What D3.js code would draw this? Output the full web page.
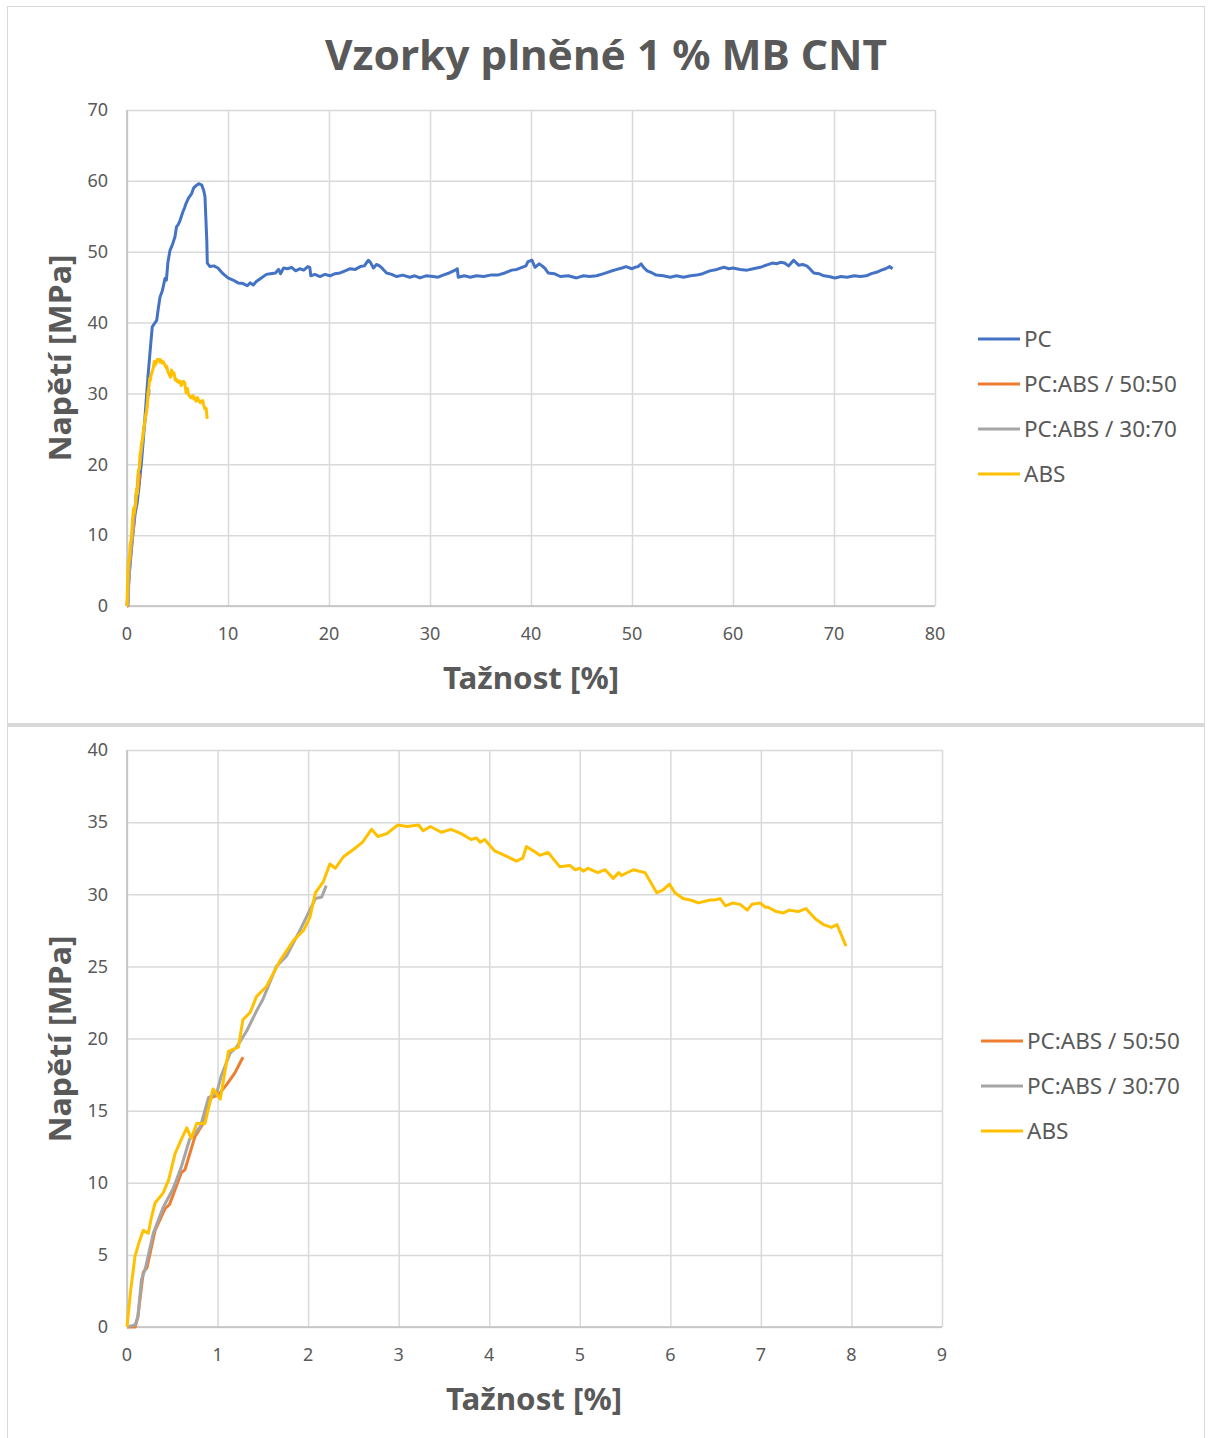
<!DOCTYPE html>
<html>
<head>
<meta charset="utf-8">
<script src="https://cdn.jsdelivr.net/npm/d3@7"></script>
<style>
  body { margin: 0; background: #fff; }
  svg { display: block; }
  text { font-family: "Noto Sans", "Open Sans", sans-serif; fill: #595959; }
</style>
</head>
<body>
<script>
// series data: [tažnost %, napětí MPa]
var pcData = [[0,0],[0.2,4],[0.5,9],[0.8,13],[1.0,14.5],[1.2,17],[1.45,20.6],[1.7,25],[1.9,29],[2.1,32.8],[2.35,37],[2.5,39.4],[2.7,39.8],[2.94,40.3],[3.1,42],[3.27,43.6],[3.5,44.5],[3.76,46.2],[3.9,46],[4.05,48.5],[4.26,50.2],[4.5,51],[4.75,52.1],[4.9,53.5],[5.05,53.8],[5.25,54.4],[5.5,55.5],[5.7,56.2],[5.84,56.8],[6.1,57.6],[6.4,58.2],[6.6,59],[6.9,59.4],[7.1,59.6],[7.4,59.4],[7.6,58.6],[7.72,57.8],[7.8,55],[7.9,51.6],[7.95,48.4],[8.22,47.9],[8.6,48],[9.0,47.7],[9.5,46.9],[10.0,46.3],[10.5,46],[11.0,45.6],[11.5,45.5],[11.9,45.2],[12.2,45.6],[12.5,45.3],[12.8,45.8],[13.3,46.3],[13.8,46.8],[14.2,46.9],[14.7,47.0],[15.0,47.5],[15.2,46.9],[15.5,47.7],[15.9,47.6],[16.3,47.8],[16.7,47.3],[17.1,47.6],[17.5,47.4],[17.9,47.9],[18.1,47.8],[18.2,46.6],[18.6,46.8],[19.1,46.5],[19.6,46.8],[20.1,46.6],[20.6,46.9],[21.1,47.0],[21.6,47.3],[22.1,47.6],[22.6,47.5],[23.1,47.9],[23.5,48.0],[23.9,48.8],[24.1,48.5],[24.4,47.7],[24.7,48.2],[25.0,48.0],[25.3,47.6],[25.7,47.0],[26.2,46.8],[26.7,46.5],[27.3,46.7],[28.0,46.4],[28.5,46.6],[29.0,46.3],[29.6,46.6],[30.3,46.5],[30.8,46.4],[31.3,46.7],[31.9,47.0],[32.5,47.4],[32.7,47.6],[32.8,46.4],[33.4,46.6],[34.0,46.4],[34.6,46.6],[35.3,46.5],[36.0,46.7],[36.7,46.7],[37.4,47.0],[38.1,47.4],[38.6,47.5],[39.1,47.8],[39.5,48.0],[39.7,48.6],[40.1,48.8],[40.4,47.8],[40.8,48.3],[41.1,48.0],[41.4,47.6],[41.7,47.0],[42.3,46.9],[42.9,46.5],[43.7,46.6],[44.5,46.3],[45.2,46.6],[45.8,46.5],[46.5,46.6],[47.2,46.9],[47.8,47.2],[48.5,47.5],[49.0,47.7],[49.4,47.9],[50.0,47.6],[50.3,47.8],[50.6,47.9],[50.9,48.3],[51.2,47.7],[51.5,47.3],[52.0,47.0],[52.4,46.7],[53.1,46.6],[53.8,46.4],[54.4,46.6],[55.1,46.4],[55.8,46.6],[56.4,46.7],[57.0,46.9],[57.7,47.3],[58.4,47.5],[59.1,47.8],[59.6,47.6],[60.0,47.7],[60.7,47.5],[61.4,47.4],[62.0,47.6],[62.7,47.8],[63.3,48.1],[63.9,48.4],[64.3,48.3],[64.7,48.5],[65.1,48.4],[65.5,48.0],[66.0,48.8],[66.5,48.1],[66.9,48.2],[67.3,48.0],[67.6,47.6],[68.0,47.0],[68.5,46.9],[69.0,46.6],[69.5,46.5],[70.1,46.3],[70.7,46.5],[71.3,46.4],[72.0,46.6],[72.6,46.5],[73.2,46.6],[73.7,46.9],[74.2,47.1],[74.7,47.4],[75.1,47.6],[75.5,47.9],[75.8,47.6]];

var pcAbs5050Data = [[0,0],[0.09,0],[0.12,0.7],[0.18,3.8],[0.22,4.1],[0.31,6.7],[0.42,8.2],[0.47,8.5],[0.60,10.7],[0.64,10.9],[0.75,13.2],[0.84,14.1],[0.93,15.9],[1.01,16.1],[1.10,16.8],[1.19,17.6],[1.28,18.7]];

var pcAbs3070Data = [[0,0],[0.09,0.15],[0.12,0.7],[0.16,3.3],[0.2,4.0],[0.29,6.5],[0.40,8.3],[0.51,9.6],[0.60,11.1],[0.69,13.0],[0.81,13.9],[0.86,15.0],[0.90,15.9],[0.99,16.2],[1.04,17.4],[1.14,19.0],[1.21,19.4],[1.32,20.5],[1.43,21.9],[1.50,22.7],[1.65,25.0],[1.76,25.7],[1.91,27.5],[2.08,29.7],[2.15,29.8],[2.20,30.6]];

var absData = [[0,0],[0.04,2.5],[0.088,4.9],[0.13,5.8],[0.18,6.7],[0.235,6.5],[0.27,7.6],[0.31,8.6],[0.40,9.3],[0.46,10.2],[0.53,12.0],[0.6,13.0],[0.66,13.8],[0.71,13.1],[0.77,14.1],[0.86,14.1],[0.95,16.5],[1.03,15.8],[1.12,19.1],[1.23,19.4],[1.28,21.3],[1.36,21.8],[1.43,22.9],[1.54,23.6],[1.69,25.4],[1.84,26.8],[1.95,27.5],[2.02,28.4],[2.08,30.1],[2.17,30.9],[2.24,32.1],[2.30,31.8],[2.39,32.6],[2.50,33.1],[2.6,33.6],[2.7,34.5],[2.77,34.0],[2.87,34.2],[2.99,34.8],[3.09,34.7],[3.22,34.8],[3.27,34.4],[3.35,34.7],[3.47,34.3],[3.58,34.5],[3.69,34.2],[3.80,33.8],[3.86,33.9],[3.90,33.6],[3.95,33.8],[4.06,33.0],[4.17,32.7],[4.30,32.3],[4.37,32.5],[4.41,33.3],[4.49,33.0],[4.56,32.7],[4.65,32.9],[4.78,31.9],[4.89,32.0],[4.95,31.7],[5.0,31.8],[5.04,31.6],[5.09,31.8],[5.20,31.5],[5.28,31.7],[5.37,31.1],[5.43,31.5],[5.46,31.3],[5.59,31.7],[5.72,31.5],[5.85,30.1],[5.92,30.3],[5.99,30.7],[6.05,30.1],[6.14,29.7],[6.22,29.6],[6.31,29.4],[6.44,29.6],[6.49,29.6],[6.55,29.7],[6.61,29.2],[6.69,29.4],[6.77,29.3],[6.85,28.9],[6.90,29.3],[6.99,29.4],[7.05,29.1],[7.08,29.1],[7.17,28.8],[7.25,28.7],[7.31,28.9],[7.41,28.8],[7.50,29.0],[7.60,28.3],[7.69,27.9],[7.78,27.7],[7.84,27.9],[7.94,26.4]];

// tick values
var topXTicks = [0, 10, 20, 30, 40, 50, 60, 70, 80];
var topYTicks = [0, 10, 20, 30, 40, 50, 60, 70];
var botXTicks = [0, 1, 2, 3, 4, 5, 6, 7, 8, 9];
var botYTicks = [0, 5, 10, 15, 20, 25, 30, 35, 40];

var seriesNames = ["PC", "PC:ABS / 50:50", "PC:ABS / 30:70", "ABS"];
var seriesColors = ["#4472C4", "#ED7D31", "#A5A5A5", "#FFC000"];

var title = "Vzorky plněné 1 % MB CNT";
var xTitle = "Tažnost [%]";
var yTitle = "Napětí [MPa]";

var svg = d3.select("body").append("svg")
    .attr("width", 1209)
    .attr("height", 1438);

// frames of the two chart boxes
svg.append("rect").attr("x", 7.5).attr("y", 6.5).attr("width", 1197).attr("height", 717)
    .attr("fill", "none").attr("stroke", "#d9d9d9");
svg.append("rect").attr("x", 7.5).attr("y", 726.5).attr("width", 1197).attr("height", 720)
    .attr("fill", "none").attr("stroke", "#d9d9d9");
svg.append("line").attr("x1", 7).attr("x2", 1205).attr("y1", 725).attr("y2", 725)
    .attr("stroke", "#d9d9d9").attr("stroke-width", 3);

svg.append("text")
    .attr("x", 606).attr("y", 70)
    .attr("text-anchor", "middle")
    .attr("textLength", 562).attr("lengthAdjust", "spacingAndGlyphs")
    .style("font-size", "41px").style("font-weight", "bold")
    .text(title);

function drawChart(cfg) {
    var x = d3.scaleLinear().domain(cfg.xDomain).range([cfg.left, cfg.right]);
    var y = d3.scaleLinear().domain(cfg.yDomain).range([cfg.bottom, cfg.top]);
    var w = cfg.right - cfg.left, h = cfg.bottom - cfg.top;

    // gridlines
    var gx = svg.append("g").attr("transform", "translate(0," + cfg.bottom + ")")
        .call(d3.axisBottom(x).tickValues(cfg.xTicks).tickSize(-h).tickFormat(""));
    var gy = svg.append("g").attr("transform", "translate(" + cfg.left + ",0)")
        .call(d3.axisLeft(y).tickValues(cfg.yTicks).tickSize(-w).tickFormat(""));
    [gx, gy].forEach(function (g) {
        g.select(".domain").remove();
        g.selectAll("line").attr("stroke", "#d9d9d9").attr("stroke-width", 1.5);
    });

    // axis lines
    svg.append("line").attr("x1", cfg.left).attr("x2", cfg.left).attr("y1", cfg.top).attr("y2", cfg.bottom)
        .attr("stroke", "#bfbfbf").attr("stroke-width", 1.5);
    svg.append("line").attr("x1", cfg.left).attr("x2", cfg.right).attr("y1", cfg.bottom).attr("y2", cfg.bottom)
        .attr("stroke", "#bfbfbf").attr("stroke-width", 1.5);

    // tick labels
    svg.append("g").selectAll("text").data(cfg.yTicks).enter().append("text")
        .attr("x", cfg.left - 19).attr("y", function (d) { return y(d); })
        .attr("dy", "0.35em").attr("text-anchor", "end")
        .style("font-size", "18px")
        .text(function (d) { return d; });
    svg.append("g").selectAll("text").data(cfg.xTicks).enter().append("text")
        .attr("x", function (d) { return x(d); }).attr("y", cfg.bottom + 28)
        .attr("dy", "0.35em").attr("text-anchor", "middle")
        .style("font-size", "18px")
        .text(function (d) { return d; });

    // axis titles
    svg.append("text")
        .attr("transform", "translate(" + (cfg.left - 67) + "," + cfg.yTitleY + ") rotate(-90)")
        .attr("text-anchor", "middle").attr("dy", "0.35em")
        .attr("textLength", 207).attr("lengthAdjust", "spacingAndGlyphs")
        .style("font-size", "31px").style("font-weight", "bold")
        .text(yTitle);
    svg.append("text")
        .attr("x", cfg.xTitleX).attr("y", cfg.bottom + 72)
        .attr("text-anchor", "middle").attr("dy", "0.35em")
        .attr("textLength", 176).attr("lengthAdjust", "spacingAndGlyphs")
        .style("font-size", "31px").style("font-weight", "bold")
        .text(xTitle);

    // series lines
    var line = d3.line().x(function (d) { return x(d[0]); }).y(function (d) { return y(d[1]); });
    cfg.series.forEach(function (s) {
        svg.append("path").datum(s.data)
            .attr("d", line)
            .attr("fill", "none")
            .attr("stroke", seriesColors[s.idx])
            .attr("stroke-width", 3)
            .attr("stroke-linejoin", "round");
    });

    // legend
    var leg = svg.append("g");
    cfg.series.forEach(function (s, i) {
        var ly = cfg.legendTop + i * 45;
        leg.append("line").attr("x1", cfg.legendX).attr("x2", cfg.legendX + 42)
            .attr("y1", ly).attr("y2", ly)
            .attr("stroke", seriesColors[s.idx]).attr("stroke-width", 3);
        leg.append("text").attr("x", cfg.legendX + 46).attr("y", ly)
            .attr("dy", "0.35em")
            .style("font-size", "22.5px")
            .text(seriesNames[s.idx]);
    });
}

drawChart({
    left: 127, right: 935, top: 110, bottom: 606,
    xDomain: [0, 80], yDomain: [0, 70],
    xTicks: topXTicks, yTicks: topYTicks,
    xTitleX: 531, yTitleY: 358,
    legendX: 978, legendTop: 339,
    series: [
        { idx: 0, data: pcData },
        { idx: 1, data: pcAbs5050Data },
        { idx: 2, data: pcAbs3070Data },
        { idx: 3, data: absData }
    ]
});

drawChart({
    left: 127, right: 942, top: 750, bottom: 1327,
    xDomain: [0, 9], yDomain: [0, 40],
    xTicks: botXTicks, yTicks: botYTicks,
    xTitleX: 534, yTitleY: 1039,
    legendX: 981, legendTop: 1041,
    series: [
        { idx: 1, data: pcAbs5050Data },
        { idx: 2, data: pcAbs3070Data },
        { idx: 3, data: absData }
    ]
});
</script>
</body>
</html>
